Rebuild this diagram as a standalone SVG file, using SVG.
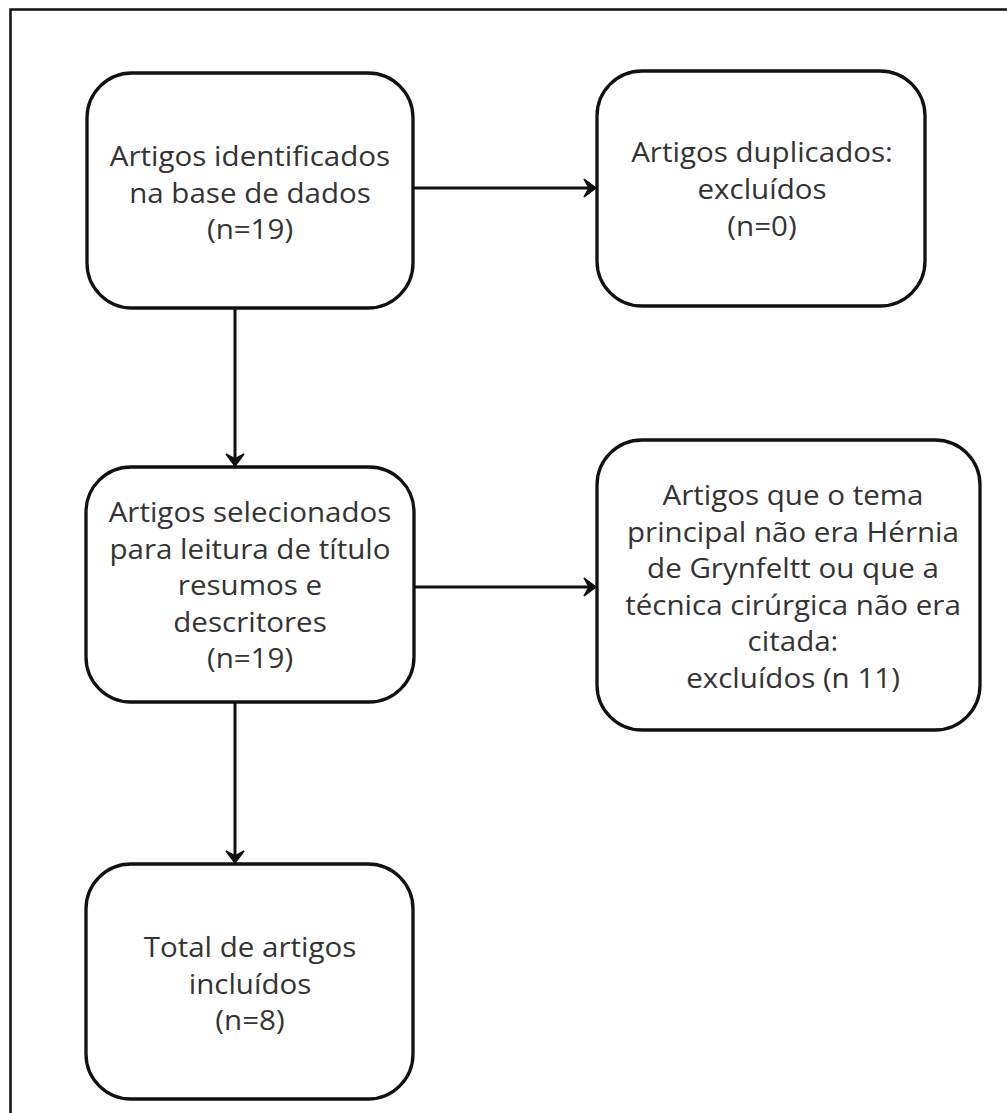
<svg xmlns="http://www.w3.org/2000/svg" width="1007" height="1113" viewBox="0 0 1007 1113">
<defs>
<style>
.node rect{fill:#ffffff;stroke:#111111;stroke-width:3.3}
.node text{font-family:"Open Sans","Noto Sans","DejaVu Sans",sans-serif;font-size:26.5px;fill:#333333;text-anchor:middle}
.conn line{stroke:#111111;stroke-width:3}
.conn path{fill:#111111;stroke:#111111;stroke-width:1.5;stroke-linejoin:miter}
</style>
</defs>
<rect width="1007" height="1113" fill="#ffffff"/>
<path d="M10.5,1113 V9.5 H1007" fill="none" stroke="#111111" stroke-width="2.5"/>
<g class="conn" id="connectors">
<line x1="235" y1="308" x2="235" y2="462"/>
<path d="M226,454 L235,466 L244,454 L235,459 Z"/>
<line x1="413" y1="188" x2="592" y2="188"/>
<path d="M584,179 L596,188 L584,197 L589,188 Z"/>
<line x1="414" y1="587" x2="592" y2="587"/>
<path d="M584,578 L596,587 L584,596 L589,587 Z"/>
<line x1="235" y1="702" x2="235" y2="859"/>
<path d="M226,851 L235,863 L244,851 L235,856 Z"/>
</g>
<g class="node" id="n1">
<rect x="87" y="73" width="326" height="235" rx="45" ry="45"/>
<text transform="translate(250,166) scale(1.115,1)">Artigos identificados</text>
<text transform="translate(250,203) scale(1.115,1)">na base de dados</text>
<text transform="translate(250,239) scale(1.115,1)">(n=19)</text>
</g>
<g class="node" id="n2">
<rect x="597" y="71" width="328" height="235" rx="45" ry="45"/>
<text transform="translate(762,162) scale(1.115,1)">Artigos duplicados:</text>
<text transform="translate(762,199) scale(1.115,1)">excluídos</text>
<text transform="translate(762,236) scale(1.115,1)">(n=0)</text>
</g>
<g class="node" id="n3">
<rect x="86" y="467" width="328" height="235" rx="45" ry="45"/>
<text transform="translate(250,522) scale(1.115,1)">Artigos selecionados</text>
<text transform="translate(250,558.5) scale(1.115,1)">para leitura de título</text>
<text transform="translate(250,595) scale(1.115,1)">resumos e</text>
<text transform="translate(250,631.5) scale(1.115,1)">descritores</text>
<text transform="translate(250,668) scale(1.115,1)">(n=19)</text>
</g>
<g class="node" id="n4">
<rect x="597" y="440" width="383" height="290" rx="45" ry="45"/>
<text transform="translate(793,505) scale(1.115,1)">Artigos que o tema</text>
<text transform="translate(793,541.6) scale(1.115,1)">principal não era Hérnia</text>
<text transform="translate(793,578.2) scale(1.115,1)">de Grynfeltt ou que a</text>
<text transform="translate(793,614.8) scale(1.115,1)">técnica cirúrgica não era</text>
<text transform="translate(793,651.4) scale(1.115,1)">citada:</text>
<text transform="translate(793,688) scale(1.115,1)">excluídos (n 11)</text>
</g>
<g class="node" id="n5">
<rect x="86" y="864" width="327" height="235" rx="45" ry="45"/>
<text transform="translate(250,957) scale(1.115,1)">Total de artigos</text>
<text transform="translate(250,993.5) scale(1.115,1)">incluídos</text>
<text transform="translate(250,1030) scale(1.115,1)">(n=8)</text>
</g>
</svg>
